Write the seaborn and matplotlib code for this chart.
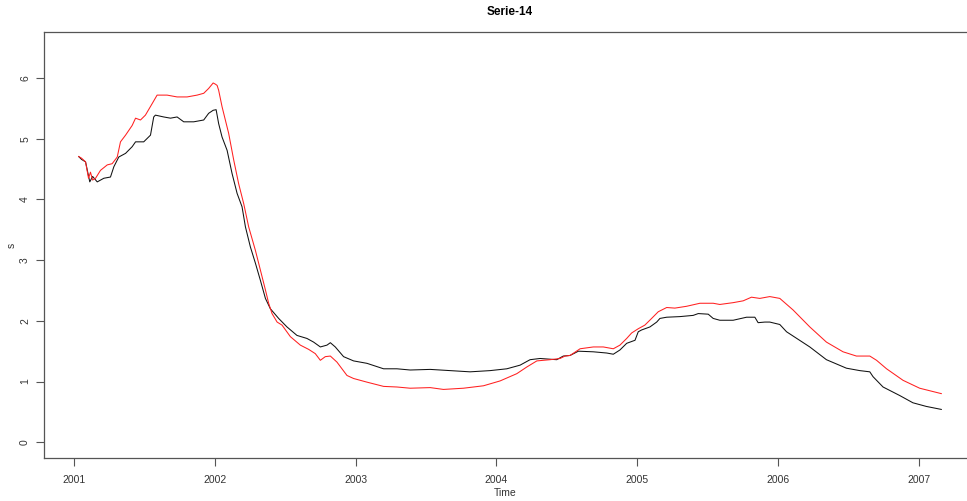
import matplotlib
matplotlib.use("Agg")
import matplotlib.pyplot as plt
import seaborn as sns
import pandas as pd

# ---- data (time in decimal years, value) ----
black_t = [2001.033, 2001.055, 2001.083, 2001.113, 2001.133, 2001.166, 2001.213, 2001.260,
           2001.284, 2001.319, 2001.367, 2001.414, 2001.438, 2001.496, 2001.544, 2001.567,
           2001.579, 2001.638, 2001.686, 2001.733, 2001.780, 2001.851, 2001.922, 2001.957,
           2001.989, 2002.010, 2002.028, 2002.052, 2002.088, 2002.123, 2002.159, 2002.194,
           2002.218, 2002.253, 2002.289, 2002.324, 2002.360, 2002.395, 2002.454, 2002.513,
           2002.584, 2002.655, 2002.702, 2002.750, 2002.797, 2002.821, 2002.856, 2002.915,
           2002.986, 2003.081, 2003.199, 2003.294, 2003.388, 2003.530, 2003.672, 2003.813,
           2003.955, 2004.074, 2004.168, 2004.239, 2004.310, 2004.428, 2004.475, 2004.523,
           2004.582, 2004.688, 2004.783, 2004.830, 2004.877, 2004.925, 2004.984, 2005.007,
           2005.031, 2005.090, 2005.138, 2005.161, 2005.209, 2005.303, 2005.397, 2005.433,
           2005.504, 2005.539, 2005.586, 2005.681, 2005.776, 2005.835, 2005.858, 2005.906,
           2005.941, 2006.012, 2006.060, 2006.225, 2006.343, 2006.485, 2006.580, 2006.651,
           2006.674, 2006.745, 2006.863, 2006.957, 2007.052, 2007.160]
black_v = [4.71, 4.66, 4.62, 4.29, 4.38, 4.29, 4.35, 4.37,
           4.54, 4.70, 4.76, 4.87, 4.95, 4.95, 5.06, 5.36,
           5.39, 5.36, 5.34, 5.36, 5.28, 5.28, 5.31, 5.42,
           5.47, 5.48, 5.25, 5.03, 4.81, 4.43, 4.10, 3.88,
           3.55, 3.22, 2.95, 2.67, 2.37, 2.20, 2.04, 1.90,
           1.76, 1.71, 1.65, 1.57, 1.60, 1.64, 1.57, 1.41,
           1.34, 1.30, 1.21, 1.21, 1.19, 1.20, 1.18, 1.16,
           1.18, 1.21, 1.27, 1.36, 1.38, 1.36, 1.42, 1.43,
           1.50, 1.49, 1.47, 1.45, 1.52, 1.63, 1.68, 1.82,
           1.85, 1.90, 1.98, 2.04, 2.06, 2.07, 2.09, 2.12,
           2.11, 2.04, 2.01, 2.01, 2.06, 2.06, 1.97, 1.98,
           1.98, 1.94, 1.82, 1.57, 1.36, 1.22, 1.18, 1.16,
           1.08, 0.91, 0.77, 0.65, 0.59, 0.54]

red_t = [2001.033, 2001.055, 2001.083, 2001.104, 2001.118, 2001.133, 2001.154, 2001.189,
         2001.237, 2001.272, 2001.308, 2001.331, 2001.367, 2001.414, 2001.438, 2001.473,
         2001.508, 2001.556, 2001.591, 2001.662, 2001.733, 2001.804, 2001.875, 2001.922,
         2001.957, 2001.989, 2002.005, 2002.017, 2002.028, 2002.052, 2002.099, 2002.135,
         2002.170, 2002.206, 2002.241, 2002.289, 2002.324, 2002.360, 2002.383, 2002.407,
         2002.443, 2002.478, 2002.537, 2002.608, 2002.667, 2002.714, 2002.750, 2002.785,
         2002.821, 2002.868, 2002.939, 2002.986, 2003.081, 2003.199, 2003.294, 2003.388,
         2003.530, 2003.624, 2003.766, 2003.908, 2004.026, 2004.145, 2004.216, 2004.287,
         2004.381, 2004.452, 2004.487, 2004.523, 2004.594, 2004.688, 2004.759, 2004.830,
         2004.877, 2004.925, 2004.960, 2005.007, 2005.054, 2005.102, 2005.149, 2005.209,
         2005.267, 2005.350, 2005.445, 2005.539, 2005.586, 2005.681, 2005.752, 2005.811,
         2005.870, 2005.941, 2006.012, 2006.106, 2006.225, 2006.343, 2006.461, 2006.556,
         2006.651, 2006.699, 2006.770, 2006.887, 2007.005, 2007.160]
red_v = [4.71, 4.68, 4.62, 4.35, 4.45, 4.32, 4.35, 4.48,
         4.57, 4.59, 4.70, 4.95, 5.06, 5.22, 5.34, 5.31,
         5.39, 5.58, 5.72, 5.72, 5.69, 5.69, 5.72, 5.75,
         5.83, 5.92, 5.90, 5.88, 5.80, 5.53, 5.09, 4.65,
         4.26, 3.93, 3.55, 3.16, 2.84, 2.51, 2.29, 2.12,
         1.98, 1.93, 1.74, 1.60, 1.53, 1.46, 1.35, 1.41,
         1.42, 1.32, 1.10, 1.05, 0.99, 0.92, 0.91, 0.89,
         0.90, 0.87, 0.89, 0.93, 1.01, 1.13, 1.24, 1.34,
         1.36, 1.38, 1.42, 1.43, 1.54, 1.57, 1.57, 1.54,
         1.60, 1.71, 1.80, 1.87, 1.93, 2.04, 2.15, 2.22,
         2.21, 2.24, 2.29, 2.29, 2.27, 2.30, 2.33, 2.39,
         2.37, 2.40, 2.37, 2.18, 1.90, 1.65, 1.49, 1.42,
         1.42, 1.35, 1.21, 1.02, 0.89, 0.80]

x_ticks = [2001, 2002, 2003, 2004, 2005, 2006, 2007]
y_ticks = [0, 1, 2, 3, 4, 5, 6]
title = "Serie-14"
xlabel = "Time"
ylabel = "s"

sns.set_style("white")
plt.rcParams["font.family"] = ["Liberation Sans", "DejaVu Sans"]

W, H = 967, 501
fig = plt.figure(figsize=(W / 100, H / 100), dpi=100)
left, right, top, bottom = 44, 976, 32, 458
ax = fig.add_axes([left / W, 1 - bottom / H, (right - left) / W, (bottom - top) / H])

df_k = pd.DataFrame({"t": black_t, "v": black_v})
df_r = pd.DataFrame({"t": red_t, "v": red_v})
sns.lineplot(data=df_k, x="t", y="v", ax=ax, color="#111111", linewidth=0.75, sort=False)
sns.lineplot(data=df_r, x="t", y="v", ax=ax, color="#ff2020", linewidth=0.75, sort=False)

ax.set_xlim(2000.788, 2007.405)
ax.set_ylim(-0.26, 6.76)
ax.set_xticks(x_ticks)
ax.set_xticklabels([str(v) for v in x_ticks])
ax.set_yticks(y_ticks)
ax.set_yticklabels([str(v) for v in y_ticks], rotation=90, va="center")

tc = "#333333"
for s in ax.spines.values():
    s.set_color("#555555")
    s.set_linewidth(0.9)
ax.tick_params(axis="both", direction="out", length=6, width=0.8, color="#555555",
               labelsize=7.5, labelcolor=tc, bottom=True, left=True)
ax.tick_params(axis="x", pad=6)
ax.tick_params(axis="y", pad=4)

ax.set_xlabel(xlabel, fontsize=7.5, color=tc, va="center")
ax.set_ylabel(ylabel, fontsize=7.5, color=tc, va="center")
ax.xaxis.set_label_coords((505 - left) / (right - left), (bottom - 493) / (bottom - top))
ax.yaxis.set_label_coords((12 - left) / (right - left), 0.5)
ax.set_title(title, fontsize=8.5, fontweight="bold", color="black", pad=12)

fig.savefig("out.png", dpi=100)
